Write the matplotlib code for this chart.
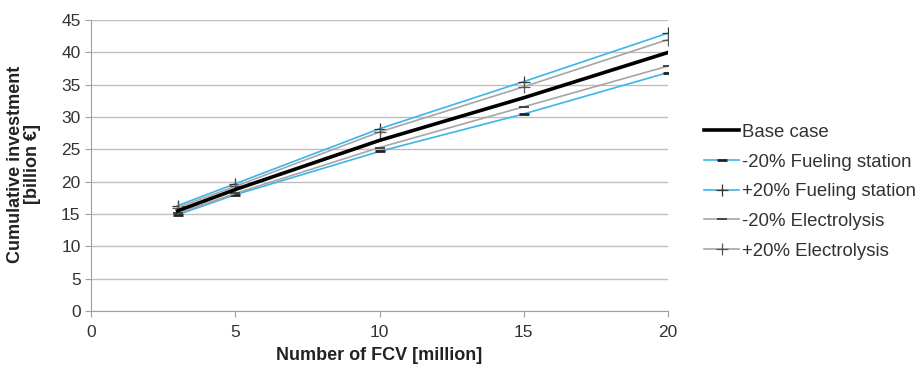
import matplotlib
matplotlib.use("Agg")
import matplotlib.pyplot as plt

plt.rcParams['font.family'] = ['Liberation Sans', 'DejaVu Sans']

# number of FCV [million]
fcv = [3, 5, 10, 15, 20]

# cumulative investment [billion EUR]
base_case = [15.5, 18.8, 26.4, 33.0, 40.0]
fs_minus = [14.9, 18.0, 24.7, 30.5, 36.9]
fs_plus = [16.3, 19.7, 28.2, 35.5, 43.0]
el_minus = [15.1, 18.2, 25.3, 31.6, 37.9]
el_plus = [16.0, 19.3, 27.7, 34.7, 42.0]

cyan = '#3db5e8'
grey = '#a6a6a6'

fig = plt.figure(figsize=(9.19, 3.66), dpi=100)
ax = fig.add_axes([0.099, 0.150, 0.628, 0.795])

ax.plot(fcv, base_case, color='black', lw=2.6, label='Base case', zorder=5)
ax.plot(fcv, fs_minus, color=cyan, lw=1.2, marker='_', ms=7, mew=2.0,
        mec='#222222', label='-20% Fueling station')
ax.plot(fcv, fs_plus, color=cyan, lw=1.2, marker='+', ms=8, mew=0.9,
        mec='#333333', label='+20% Fueling station')
ax.plot(fcv, el_minus, color=grey, lw=1.2, marker='_', ms=7, mew=1.4,
        mec='#444444', label='-20% Electrolysis')
ax.plot(fcv, el_plus, color=grey, lw=1.2, marker='+', ms=8, mew=0.9,
        mec='#555555', label='+20% Electrolysis')

ax.set_xlim(0, 20)
ax.set_ylim(0, 45)
ax.set_xticks([0, 5, 10, 15, 20])
ax.set_yticks(range(0, 46, 5))
ax.yaxis.grid(True, color='#bfbfbf', lw=1.0)
ax.set_axisbelow(True)
for s in ['top', 'right']:
    ax.spines[s].set_visible(False)
for s in ['left', 'bottom']:
    ax.spines[s].set_color('#a0a0a0')
ax.tick_params(axis='both', colors='#a0a0a0', labelcolor='#333333',
               labelsize=12.5, length=4)
ax.tick_params(axis='x', pad=6)

ax.set_xlabel('Number of FCV [million]', fontsize=13, fontweight='bold',
              color='#222222')
ax.xaxis.set_label_coords(0.5, -0.122)
ax.set_ylabel('Cumulative investment\n[billion €]', fontsize=13,
              fontweight='bold', color='#222222', linespacing=1.0)
ax.yaxis.set_label_coords(-0.087, 0.505)

leg = ax.legend(loc='center left', bbox_to_anchor=(1.034, 0.41), frameon=False,
                fontsize=13.4, handlelength=1.85, handletextpad=0.15,
                labelspacing=0.68, labelcolor='#333333')

fig.savefig('out.png', dpi=100)
